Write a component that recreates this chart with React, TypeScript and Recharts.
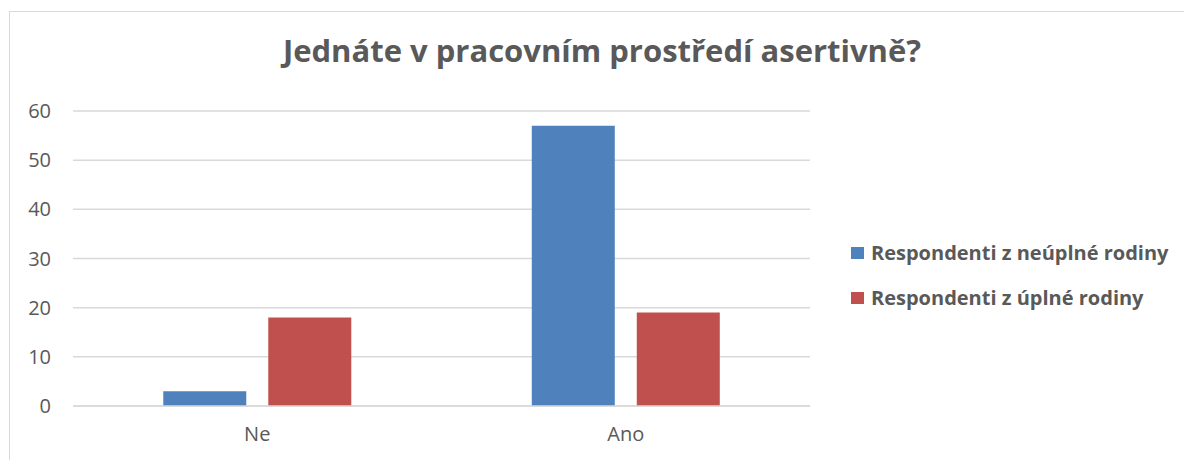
import React from "react";
import { BarChart, Bar, XAxis, YAxis, CartesianGrid } from "recharts";

const categories = ["Ne", "Ano"];
const neuplne = [3, 57];
const uplne = [18, 19];
const yTicks = [0, 10, 20, 30, 40, 50, 60];

const seriesNames = ["Respondenti z neúplné rodiny", "Respondenti z úplné rodiny"];
const seriesColors = ["#4f81bd", "#c0504d"];

const data = categories.map((name, i) => ({
  name,
  neuplne: neuplne[i],
  uplne: uplne[i],
}));

const FONT = "'Open Sans', 'Noto Sans', sans-serif";
const TEXT = "#595959";

function LegendBox() {
  return (
    <div style={{ position: "absolute", left: 841, top: 218, fontFamily: FONT }}>
      {seriesNames.map((n, i) => (
        <div
          key={n}
          style={{
            display: "flex",
            alignItems: "center",
            height: 45,
            fontWeight: 700,
            fontSize: 20,
            color: TEXT,
            whiteSpace: "nowrap",
          }}
        >
          <span
            style={{
              display: "inline-block",
              width: 13,
              height: 12,
              background: seriesColors[i],
              marginRight: 7,
            }}
          />
          {n}
        </div>
      ))}
    </div>
  );
}

export default function App() {
  return (
    <div
      style={{
        position: "fixed",
        left: 9,
        top: 11,
        width: 1175,
        height: 449,
        borderTop: "1px solid #d9d9d9",
        borderLeft: "1px solid #d9d9d9",
        background: "#fff",
        fontFamily: FONT,
      }}
    >
      <div
        style={{
          position: "absolute",
          left: 0,
          top: 17,
          width: 1184,
          textAlign: "center",
          fontSize: 31,
          fontWeight: 700,
          color: TEXT,
        }}
      >
        Jednáte v pracovním prostředí asertivně?
      </div>
      <BarChart
        width={1174}
        height={448}
        data={data}
        margin={{ top: 99, right: 374, bottom: 4, left: 23 }}
        barCategoryGap="24.5%"
        barGap={22}
      >
        <CartesianGrid vertical={false} stroke="#d9d9d9" strokeWidth={1.5} />
        <XAxis
          dataKey="name"
          height={50}
          tickLine={false}
          tickSize={0}
          tickMargin={21}
          axisLine={{ stroke: "#d9d9d9", strokeWidth: 1.5 }}
          tick={{ fill: TEXT, fontSize: 20, fontFamily: FONT }}
        />
        <YAxis
          width={40}
          domain={[0, 60]}
          ticks={yTicks}
          axisLine={false}
          tickLine={false}
          tickSize={0}
          tickMargin={22}
          tick={{ fill: TEXT, fontSize: 20, fontFamily: FONT }}
        />
        <Bar dataKey="neuplne" name={seriesNames[0]} fill={seriesColors[0]} isAnimationActive={false} />
        <Bar dataKey="uplne" name={seriesNames[1]} fill={seriesColors[1]} isAnimationActive={false} />
      </BarChart>
      <LegendBox />
    </div>
  );
}
